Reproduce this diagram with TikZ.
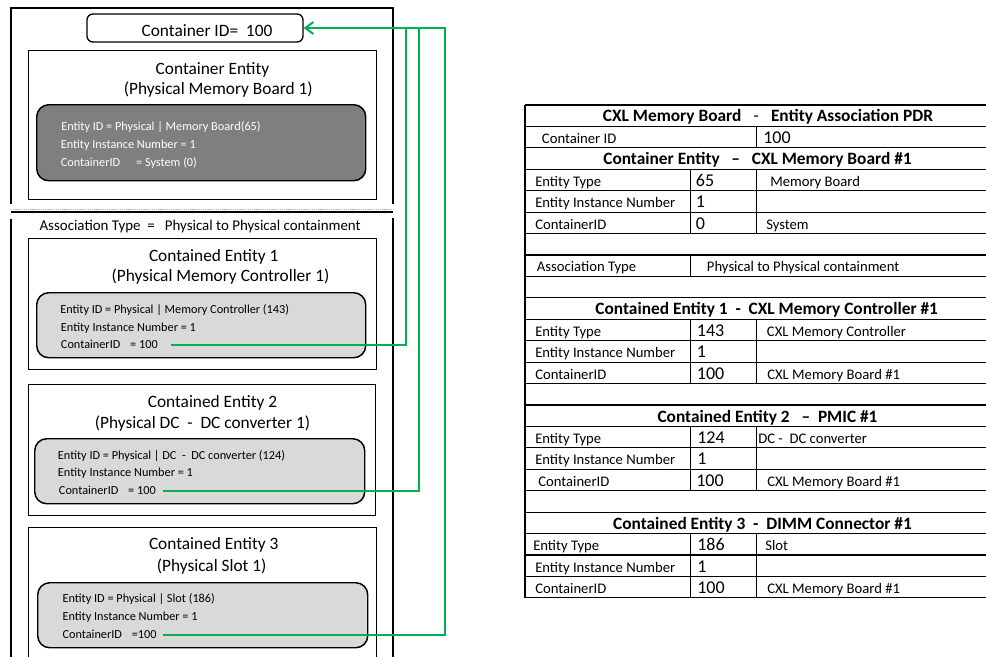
\documentclass[tikz,border=0pt]{standalone}
\usepackage{fontspec}
\setmainfont{Carlito}
\usetikzlibrary{arrows.meta}
\definecolor{lgreen}{HTML}{00B050}
\definecolor{dgray}{HTML}{7F7F7F}
\definecolor{lgray}{HTML}{D9D9D9}
\begin{document}
\begin{tikzpicture}[x=0.75pt,y=-0.75pt,
  frame/.style={line width=1.3pt, draw=black},
  ebox/.style={draw=black, line width=1pt, fill=white, anchor=north west, inner sep=0pt},
  gbox/.style={draw=black, line width=1.1pt, rounded corners=9pt, anchor=north west, inner sep=0pt},
  ttl/.style={font=\fontsize{13}{15}\selectfont, anchor=base, inner sep=0pt},
  sml/.style={font=\fontsize{9.2}{11}\selectfont, anchor=base west, inner sep=0pt},
  wsml/.style={sml, text=white},
  link/.style={draw=lgreen, line width=1.5pt},
  tline/.style={line width=0.9pt, draw=black},
  tlab/.style={font=\fontsize{11}{13}\selectfont, anchor=base west, inner sep=0pt},
  tnum/.style={font=\fontsize{13.5}{15}\selectfont, anchor=base west, inner sep=0pt},
  thead/.style={font=\bfseries\fontsize{13}{15}\selectfont, anchor=base, inner sep=0pt}]
\clip (0,0) rectangle (986,657);
\fill[white] (0,0) rectangle (986,657);

% ---------- left: outer frame ----------
\draw[frame] (11,204) -- (11,8) -- (393,8) -- (393,204);
\draw[gray!55, line width=1.2pt, dash pattern=on 1pt off 0.6pt] (11,209.5) -- (393,209.5);
\draw[line width=1.6pt] (11,212) -- (393,212);
\draw[frame] (11,219) -- (11,670);
\draw[frame] (393,218) -- (393,670);

% ---------- container id ----------
\node[draw=black, line width=1pt, rounded corners=4.5pt, minimum width=162pt, minimum height=21pt, inner sep=0pt] (cidbox) at (195,28) {};
\node[ttl] (cidtext) at (207,36) {Container ID=\ \ 100};

% ---------- container entity ----------
\node[ebox, minimum width=261pt, minimum height=111.75pt] (ceb) at (28,50) {};
\node[ttl] (cet1) at (212.5,74) {Container Entity};
\node[ttl] (cet2) at (218.3,94) {(Physical Memory Board 1)};
\node[gbox, fill=dgray, minimum width=246.75pt, minimum height=57pt] (ceg) at (36,104) {};
\node[wsml] (ce1) at (61,130.5) {Entity ID = Physical | Memory Board(65)};
\node[wsml] (ce2) at (60.5,148.5) {Entity Instance Number = 1};
\node[wsml] (ce3) at (60.5,166.5) {ContainerID\hspace{1.3em}= System (0)};

% ---------- association ----------
\node[font=\fontsize{11.2}{13}\selectfont, anchor=base west, inner sep=0pt] (assoc) at (39.3,230.7) {Association Type\ \ =\ \ \ Physical to Physical containment};

% ---------- contained entity 1 ----------
\node[ebox, minimum width=261pt, minimum height=98.25pt] (e1b) at (28,238) {};
\node[ttl] (e1t1) at (213.7,261.7) {Contained Entity 1};
\node[ttl] (e1t2) at (220.5,281.7) {(Physical Memory Controller 1)};
\node[gbox, fill=lgray, minimum width=246.75pt, minimum height=48.75pt] (e1g) at (36,292) {};
\node[sml] (e1a) at (60,313) {Entity ID = Physical | Memory Controller (143)};
\node[sml] (e1n) at (60.7,331) {Entity Instance Number = 1};
\node[sml] (e1c) at (60.7,348.5) {ContainerID\hspace{0.8em}= 100};

% ---------- contained entity 2 ----------
\node[ebox, minimum width=260.25pt, minimum height=98.25pt] (e2b) at (28,384) {};
\node[ttl] (e2t1) at (212.5,407.7) {Contained Entity 2};
\node[ttl] (e2t2) at (202.5,428.3) {(Physical DC\ \ -\ \ DC converter 1)};
\node[gbox, fill=lgray, minimum width=247.5pt, minimum height=48.75pt] (e2g) at (34,438) {};
\node[sml] (e2a) at (57.7,459) {Entity ID = Physical | DC\ \ -\ \ DC converter (124)};
\node[sml] (e2n) at (57.7,476.7) {Entity Instance Number = 1};
\node[sml] (e2c) at (58.7,494.3) {ContainerID\hspace{0.8em}= 100};

% ---------- contained entity 3 ----------
\node[ebox, minimum width=261pt, minimum height=114.75pt] (e3b) at (28,527) {};
\node[ttl] (e3t1) at (213.7,549.3) {Contained Entity 3};
\node[ttl] (e3t2) at (211.7,571) {(Physical Slot 1)};
\node[gbox, fill=lgray, minimum width=247.5pt, minimum height=48.75pt] (e3g) at (37,582) {};
\node[sml] (e3a) at (62.3,602.7) {Entity ID = Physical | Slot (186)};
\node[sml] (e3n) at (62.3,620.7) {Entity Instance Number = 1};
\node[sml] (e3c) at (62.3,638.3) {ContainerID\hspace{0.8em}=100};

% ---------- green links ----------
\coordinate (s1) at (171,344.5);
\coordinate (s2) at (163,490.5);
\coordinate (s3) at (163,634.5);
\coordinate (j1) at (406,28);
\coordinate (j2) at (419,28);
\coordinate (j3) at (445,28);
\draw[link] (s1) -| (j1);
\draw[link] (s2) -| (j2);
\draw[link, -{Straight Barb[length=6pt, width=9pt]}] (s3) -| (j3) -- (cidbox.east);

% ---------- right table ----------
\foreach \k in {0,...,23} \draw[tline] (525,{105+21.43*\k}) -- (990,{105+21.43*\k});
\draw[tline] (525,105) -- (525,597.89);
\draw[tline] (756.7,126.43) -- (756.7,147.86);
\draw[tline] (690.7,169.29) -- (690.7,233.58);
\draw[tline] (756.7,169.29) -- (756.7,233.58);
\draw[tline] (690.7,255.01) -- (690.7,276.44);
\draw[tline] (690.7,319.3) -- (690.7,383.59);
\draw[tline] (756.7,319.3) -- (756.7,383.59);
\draw[tline] (690.7,426.45) -- (690.7,490.74);
\draw[tline] (756.7,426.45) -- (756.7,490.74);
\draw[tline] (690.7,533.6) -- (690.7,597.89);
\draw[tline] (756.7,533.6) -- (756.7,597.89);

\node[thead] (r1) at (768,121.9) {CXL Memory Board\hspace{0.7em}{\mdseries -}\hspace{0.7em}Entity Association PDR};
\node[tlab] (r2a) at (541.7,143.4) {Container ID};
\node[tnum] (r2b) at (763,143.4) {100};
\node[thead] (r3) at (757.5,164.8) {Container Entity\ \ \ –\ \ \ CXL Memory Board \#1};
\node[tlab] (r4a) at (535,186.2) {Entity Type};
\node[tnum] (r4b) at (695.7,186.2) {65};
\node[tlab] (r4c) at (770,186.2) {Memory Board};
\node[tlab] (r5a) at (535,207.7) {Entity Instance Number};
\node[tnum] (r5b) at (695.7,207.7) {1};
\node[tlab] (r6a) at (535,229.1) {ContainerID};
\node[tnum] (r6b) at (695.7,229.1) {0};
\node[tlab] (r6c) at (766,229.1) {System};
\node[tlab] (r8a) at (536.7,271.9) {Association Type};
\node[tlab] (r8b) at (706.7,271.9) {Physical to Physical containment};
\node[thead] (r10) at (766.7,314.8) {Contained Entity 1\ \ -\ \ CXL Memory Controller \#1};
\node[tlab] (r11a) at (535,336.2) {Entity Type};
\node[tnum] (r11b) at (696.7,336.2) {143};
\node[tlab] (r11c) at (766.7,336.2) {CXL Memory Controller};
\node[tlab] (r12a) at (535,357.7) {Entity Instance Number};
\node[tnum] (r12b) at (696.7,357.7) {1};
\node[tlab] (r13a) at (535,379.1) {ContainerID};
\node[tnum] (r13b) at (696.7,379.1) {100};
\node[tlab] (r13c) at (767,379.1) {CXL Memory Board \#1};
\node[thead] (r15) at (767.5,422) {Contained Entity 2\ \ \ –\ \ PMIC \#1};
\node[tlab] (r16a) at (535,443.4) {Entity Type};
\node[tnum] (r16b) at (697,443.4) {124};
\node[tlab] (r16c) at (758,443.4) {DC -\ \ DC converter};
\node[tlab] (r17a) at (535,464.8) {Entity Instance Number};
\node[tnum] (r17b) at (697,464.8) {1};
\node[tlab] (r18a) at (538,486.2) {ContainerID};
\node[tnum] (r18b) at (696,486.2) {100};
\node[tlab] (r18c) at (767,486.2) {CXL Memory Board \#1};
\node[thead] (r20) at (762.5,529.1) {Contained Entity 3\ \ -\ \ DIMM Connector \#1};
\node[tlab] (r21a) at (533,550.5) {Entity Type};
\node[tnum] (r21b) at (697,550.5) {186};
\node[tlab] (r21c) at (765,550.5) {Slot};
\node[tlab] (r22a) at (535,572) {Entity Instance Number};
\node[tnum] (r22b) at (697,572) {1};
\node[tlab] (r23a) at (535,593.4) {ContainerID};
\node[tnum] (r23b) at (697,593.4) {100};
\node[tlab] (r23c) at (767,593.4) {CXL Memory Board \#1};
\end{tikzpicture}
\end{document}
